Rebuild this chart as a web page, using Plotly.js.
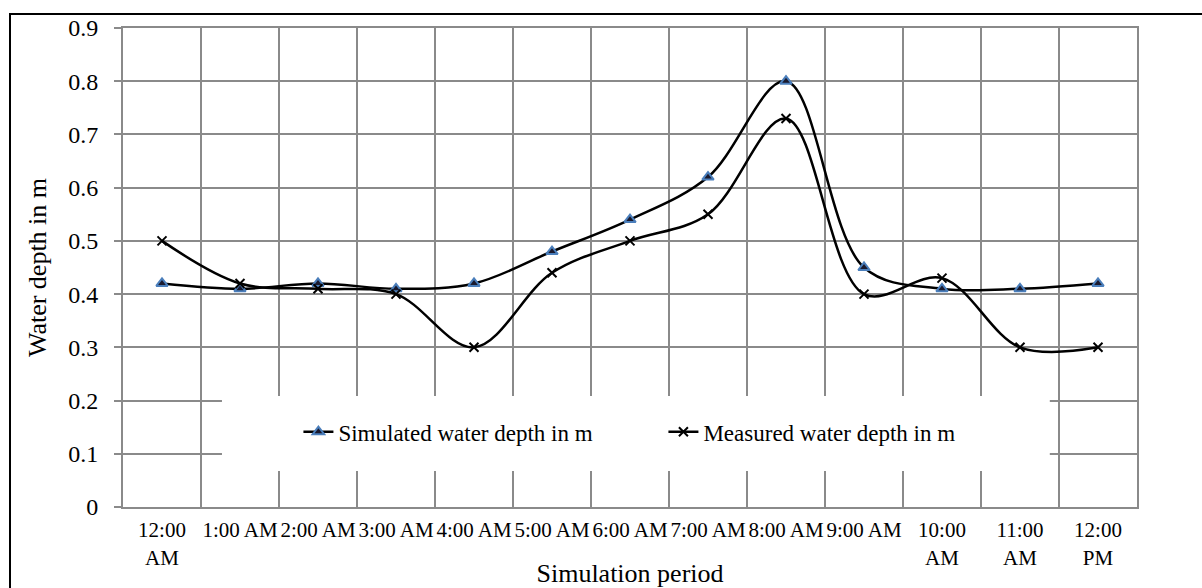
<!DOCTYPE html>
<html>
<head>
<meta charset="utf-8">
<script src="https://cdn.plot.ly/plotly-3.0.1.min.js"></script>
<style>
  html, body { margin: 0; padding: 0; background: #fff; }
  #wrap { position: relative; width: 1202px; height: 588px; overflow: hidden; }
  #chart { position: absolute; left: 0; top: 0; width: 1202px; height: 588px; }
  #frame { position: absolute; left: 9px; top: 13px; width: 1300px; height: 700px;
           border-left: 2px solid #000; border-top: 2px solid #000; pointer-events: none; }
</style>
</head>
<body>
<div id="wrap">
  <div id="chart"></div>
  <div id="frame"></div>
</div>
<script>
// Category labels (x axis)
const timeLabels = [
  "12:00<br>AM", "1:00 AM", "2:00 AM", "3:00 AM", "4:00 AM", "5:00 AM",
  "6:00 AM", "7:00 AM", "8:00 AM", "9:00 AM", "10:00<br>AM", "11:00<br>AM", "12:00<br>PM"
];
// Series values (m)
const simulatedDepth = [0.42, 0.41, 0.42, 0.41, 0.42, 0.48, 0.54, 0.62, 0.80, 0.45, 0.41, 0.41, 0.42];
const measuredDepth  = [0.50, 0.42, 0.41, 0.40, 0.30, 0.44, 0.50, 0.55, 0.73, 0.40, 0.43, 0.30, 0.30];
// Y tick values
const yTicks = [0, 0.1, 0.2, 0.3, 0.4, 0.5, 0.6, 0.7, 0.8, 0.9];
const yTickText = ["0", "0.1", "0.2", "0.3", "0.4", "0.5", "0.6", "0.7", "0.8", "0.9"];

const serif = "Times New Roman, Liberation Serif, serif";
const gridCol = "#8a8a8a";

const traces = [
  {
    x: timeLabels, y: simulatedDepth, name: "Simulated water depth in m",
    type: "scatter", mode: "lines+markers",
    line: { color: "#000", width: 2.5, shape: "spline", smoothing: 1 },
    marker: { symbol: "triangle-up", size: 10, color: "#1a1a2e", line: { color: "#4a7ebb", width: 2 } }
  },
  {
    x: timeLabels, y: measuredDepth, name: "Measured water depth in m",
    type: "scatter", mode: "lines+markers",
    line: { color: "#000", width: 2.5, shape: "spline", smoothing: 1 },
    marker: { symbol: "x-thin", size: 9, color: "#000", line: { color: "#000", width: 2 } }
  }
];

const layout = {
  width: 1202, height: 588,
  margin: { l: 123, r: 65, t: 28, b: 81 },
  paper_bgcolor: "rgba(0,0,0,0)", plot_bgcolor: "#fff",
  font: { family: serif, size: 22, color: "#000" },
  showlegend: true,
  legend: {
    orientation: "h", x: 0.173, xanchor: "left", y: 0.157, yanchor: "middle",
    bgcolor: "rgba(0,0,0,0)", font: { family: serif, size: 23, color: "#000" },
    entrywidth: 320, entrywidthmode: "pixels", traceorder: "normal"
  },
  xaxis: {
    type: "category", tickson: "boundaries", range: [-0.5, 12.5], autorange: false,
    showgrid: true, gridcolor: gridCol, gridwidth: 2,
    showline: true, linecolor: gridCol, linewidth: 2, mirror: true,
    ticks: "", ticklabelstandoff: 3,
    tickfont: { family: serif, size: 21, color: "#000" },
    tickangle: 0, automargin: false,
    title: { text: "Simulation period", font: { family: serif, size: 26, color: "#000" }, standoff: 7 },
    fixedrange: true
  },
  yaxis: {
    range: [0, 0.9], autorange: false, tickmode: "array", tickvals: yTicks, ticktext: yTickText,
    showgrid: true, gridcolor: gridCol, gridwidth: 2, zeroline: false,
    showline: true, linecolor: gridCol, linewidth: 2, mirror: true,
    ticks: "outside", ticklen: 7, tickwidth: 2, tickcolor: gridCol, ticklabelstandoff: 11,
    tickfont: { family: serif, size: 24, color: "#000" },
    automargin: false,
    title: { text: "Water depth in m", font: { family: serif, size: 26, color: "#000" }, standoff: 14 },
    fixedrange: true
  },
  shapes: [
    { type: "rect", xref: "paper", yref: "paper", x0: 0.0976, x1: 0.914, y0: 0.0752, y1: 0.2317,
      fillcolor: "#fff", line: { width: 0 }, layer: "above" }
  ]
};

Plotly.newPlot("chart", traces, layout, { displayModeBar: false, staticPlot: true });
</script>
</body>
</html>
